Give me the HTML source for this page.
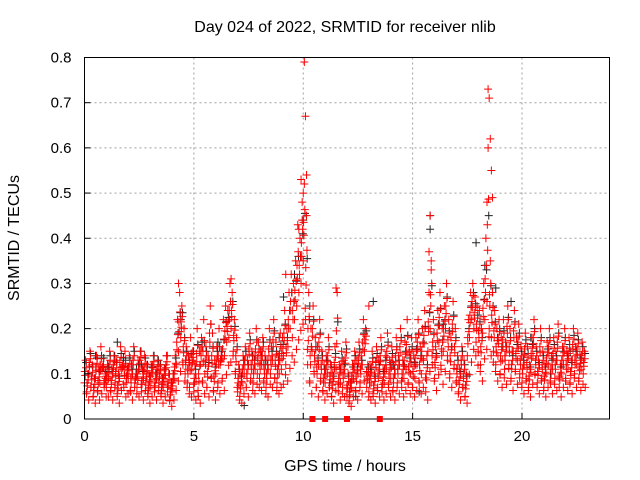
<!DOCTYPE html>
<html><head><meta charset="utf-8"><style>
body{margin:0;background:#fff}
svg{display:block;font-family:"Liberation Sans",sans-serif}
</style></head><body>
<svg id="chart" width="640" height="480" viewBox="0 0 640 480">
<rect width="640" height="480" fill="#fff"/>
<g id="grid"></g>
<g id="black"></g>
<g id="red"></g>
<rect x="84.5" y="57.5" width="525" height="361.5" fill="none" stroke="#000" stroke-width="1"/>
<g id="ticks"></g>
<g id="marks"></g>
<text x="345" y="32" font-size="16" text-anchor="middle">Day 024 of 2022, SRMTID for receiver nlib</text>
<text x="345" y="471" font-size="16" text-anchor="middle">GPS time / hours</text>
<text x="0" y="0" font-size="16" text-anchor="middle" transform="translate(19,238) rotate(-90)">SRMTID / TECUs</text>
</svg>
<script>
const xTicks=[0,5,10,15,20];
const yTicks=[0,0.1,0.2,0.3,0.4,0.5,0.6,0.7,0.8];
const yTickLabels=["0","0.1","0.2","0.3","0.4","0.5","0.6","0.7","0.8"];
const sampleStep=0.1;
const seriesLow=[.08,.06,.10,.07,.05,.09,.06,.08,.11,.07,
.07,.09,.06,.10,.08,.05,.09,.11,.07,.08,
.09,.06,.10,.08,.07,.11,.06,.09,.08,.05,
.07,.10,.06,.09,.08,.05,.07,.10,.06,.04,
.06,.09,.12,.15,.18,.12,.10,.08,.07,.11,
.06,.09,.05,.12,.08,.10,.07,.13,.09,.06,
.10,.08,.12,.09,.14,.17,.18,.20,.15,.10,
.06,.05,.08,.10,.07,.12,.09,.08,.11,.10,
.09,.12,.08,.07,.11,.10,.13,.09,.08,.10,
.11,.14,.12,.16,.20,.18,.22,.25,.28,.30,
.35,.22,.12,.08,.15,.10,.07,.12,.09,.06,
.08,.10,.07,.05,.09,.11,.06,.08,.07,.10,
.05,.04,.07,.09,.06,.10,.08,.12,.15,.07,
.06,.08,.05,.09,.07,.10,.06,.08,.11,.07,
.09,.06,.10,.08,.12,.07,.09,.11,.08,.10,
.07,.09,.12,.08,.10,.13,.06,.15,.20,.12,
.09,.14,.17,.11,.15,.20,.13,.10,.16,.12,
.08,.06,.10,.07,.05,.14,.18,.22,.20,.17,
.15,.12,.19,.22,.26,.20,.18,.15,.12,.14,
.10,.13,.11,.16,.12,.09,.15,.11,.13,.10,
.08,.12,.09,.07,.11,.14,.10,.08,.12,.09,
.07,.10,.12,.08,.11,.09,.13,.07,.10,.12,
.09,.11,.08,.13,.10,.12,.09,.11,.10];
const seriesHigh=[.13,.10,.15,.12,.09,.14,.11,.16,.12,.10,
.12,.15,.11,.14,.13,.10,.16,.12,.15,.11,
.14,.12,.16,.10,.13,.15,.11,.14,.12,.10,
.12,.14,.10,.13,.12,.09,.11,.14,.10,.08,
.10,.14,.22,.28,.25,.20,.16,.14,.18,.15,
.12,.20,.15,.18,.22,.16,.14,.25,.19,.13,
.16,.20,.14,.22,.25,.24,.30,.28,.22,.18,
.12,.10,.14,.16,.13,.19,.15,.14,.20,.17,
.15,.18,.14,.13,.20,.16,.22,.17,.14,.19,
.18,.24,.20,.28,.32,.30,.35,.43,.40,.48,
.52,.45,.28,.20,.25,.18,.16,.22,.15,.12,
.14,.18,.12,.10,.16,.28,.12,.15,.13,.17,
.10,.08,.12,.15,.13,.17,.14,.22,.20,.12,
.12,.15,.10,.16,.13,.18,.11,.14,.19,.13,
.16,.12,.18,.14,.20,.13,.17,.22,.15,.18,
.14,.18,.22,.16,.20,.24,.14,.28,.35,.22,
.16,.24,.28,.20,.25,.30,.22,.18,.26,.20,
.14,.11,.16,.13,.10,.22,.28,.30,.27,.25,
.24,.20,.30,.40,.60,.35,.28,.24,.20,.22,
.18,.22,.17,.25,.20,.15,.24,.18,.21,.16,
.14,.19,.16,.12,.18,.22,.16,.13,.20,.15,
.12,.17,.20,.14,.18,.15,.21,.12,.16,.20,
.15,.18,.13,.20,.16,.19,.14,.17,.15];
const peakTimes=[10.05,10.1,9.9,10.0,10.15,18.45,18.5,18.55,18.6,18.4,15.8,15.75,15.85,9.8,9.95,18.65,4.3,6.7,9.2,11.5,13.0];
const peakValues=[.79,.67,.53,.50,.54,.73,.71,.62,.55,.48,.45,.37,.33,.42,.44,.49,.30,.31,.32,.29,.25];
const blackTimes=[0.5,1.5,2.6,3.4,4.4,5.2,6.1,7.3,8.2,9.1,9.6,10.3,11.2,12.4,13.2,14.1,15.3,15.8,16.4,17.3,17.9,18.3,18.8,19.5,20.4,21.3,22.2,8.9,10.0,15.8];
const blackValues=[.14,.17,.12,.08,.22,.05,.17,.03,.12,.27,.32,.25,.08,.05,.26,.12,.06,.42,.21,.07,.39,.34,.29,.26,.18,.10,.15,.18,.44,.45];
const gapTimes=[10.42,11.0,12.0,13.5];

const X0=84.5,X1=609.5,Y0=419,Y1=57.5,XMAX=24,YMAX=0.8;
const sx=t=>X0+(X1-X0)*t/XMAX;
const sy=v=>Y0-(Y0-Y1)*v/YMAX;
const NS="http://www.w3.org/2000/svg";
function mk(tag,parent){const e=document.createElementNS(NS,tag);parent.appendChild(e);return e;}
const grid=document.getElementById('grid'),ticks=document.getElementById('ticks');
xTicks.forEach(t=>{
  const x=sx(t);
  if(t>0){const g=mk('line',grid);g.setAttribute('x1',x);g.setAttribute('x2',x);g.setAttribute('y1',Y1);g.setAttribute('y2',Y0);g.setAttribute('stroke','#a0a0a0');g.setAttribute('stroke-dasharray','2,3');
  
  }
  const k=mk('line',ticks);k.setAttribute('x1',x);k.setAttribute('x2',x);k.setAttribute('y1',Y0);k.setAttribute('y2',Y0-6);k.setAttribute('stroke','#000');
  
  
  const l=mk('text',ticks);l.setAttribute('x',x);l.setAttribute('y',Y0+22);l.setAttribute('font-size','15');l.setAttribute('text-anchor','middle');l.textContent=String(t);
  
  
});
yTicks.forEach((v,i)=>{
  const y=sy(v);
  if(v>0&&v<YMAX){const g=mk('line',grid);g.setAttribute('x1',X0);g.setAttribute('x2',X1);g.setAttribute('y1',y);g.setAttribute('y2',y);g.setAttribute('stroke','#a0a0a0');g.setAttribute('stroke-dasharray','2,3');
  
  }
  const k=mk('line',ticks);k.setAttribute('x1',X0);k.setAttribute('x2',X0+6);k.setAttribute('y1',y);k.setAttribute('y2',y);k.setAttribute('stroke','#000');
  
  
  const l=mk('text',ticks);l.setAttribute('x',X0-13);l.setAttribute('y',y+5);l.setAttribute('font-size','15');l.setAttribute('text-anchor','end');l.textContent=yTickLabels[i];
  
  
});
function plus(x,y){return 'M'+(x-4)+' '+y+'h8M'+x+' '+(y-4)+'v8';}
let d='';
blackTimes.forEach((t,i)=>{d+=plus(sx(t),sy(blackValues[i]));});
seriesLow.forEach((a,i)=>{d+=plus(sx(i*sampleStep+0.08),sy((a+seriesHigh[i])/2+0.02));});
const bp=mk('path',document.getElementById('black'));bp.setAttribute('d',d);bp.setAttribute('stroke','#222');bp.setAttribute('fill','none');


let r='';
seriesLow.forEach((a,i)=>{
  const b=seriesHigh[i],t=i*sampleStep;
  r+=plus(sx(t),sy(a));
  r+=plus(sx(t+0.05),sy(b));
  r+=plus(sx(t+0.03),sy((2*a+b)/3));
  r+=plus(sx(t+0.07),sy((a+2*b)/3));
  r+=plus(sx(t+0.015),sy((a+b)/2));
  r+=plus(sx(t+0.09),sy(a*0.7));
});
peakTimes.forEach((t,i)=>{r+=plus(sx(t),sy(peakValues[i]));});
const rp=mk('path',document.getElementById('red'));rp.setAttribute('d',r);rp.setAttribute('stroke','#f00');rp.setAttribute('fill','none');


gapTimes.forEach(t=>{
  const s=mk('rect',document.getElementById('marks'));s.setAttribute('x',sx(t)-3);s.setAttribute('y',Y0-3);s.setAttribute('width',6);s.setAttribute('height',6);s.setAttribute('fill','#f00');
  
  
});
</script>
</body></html>
